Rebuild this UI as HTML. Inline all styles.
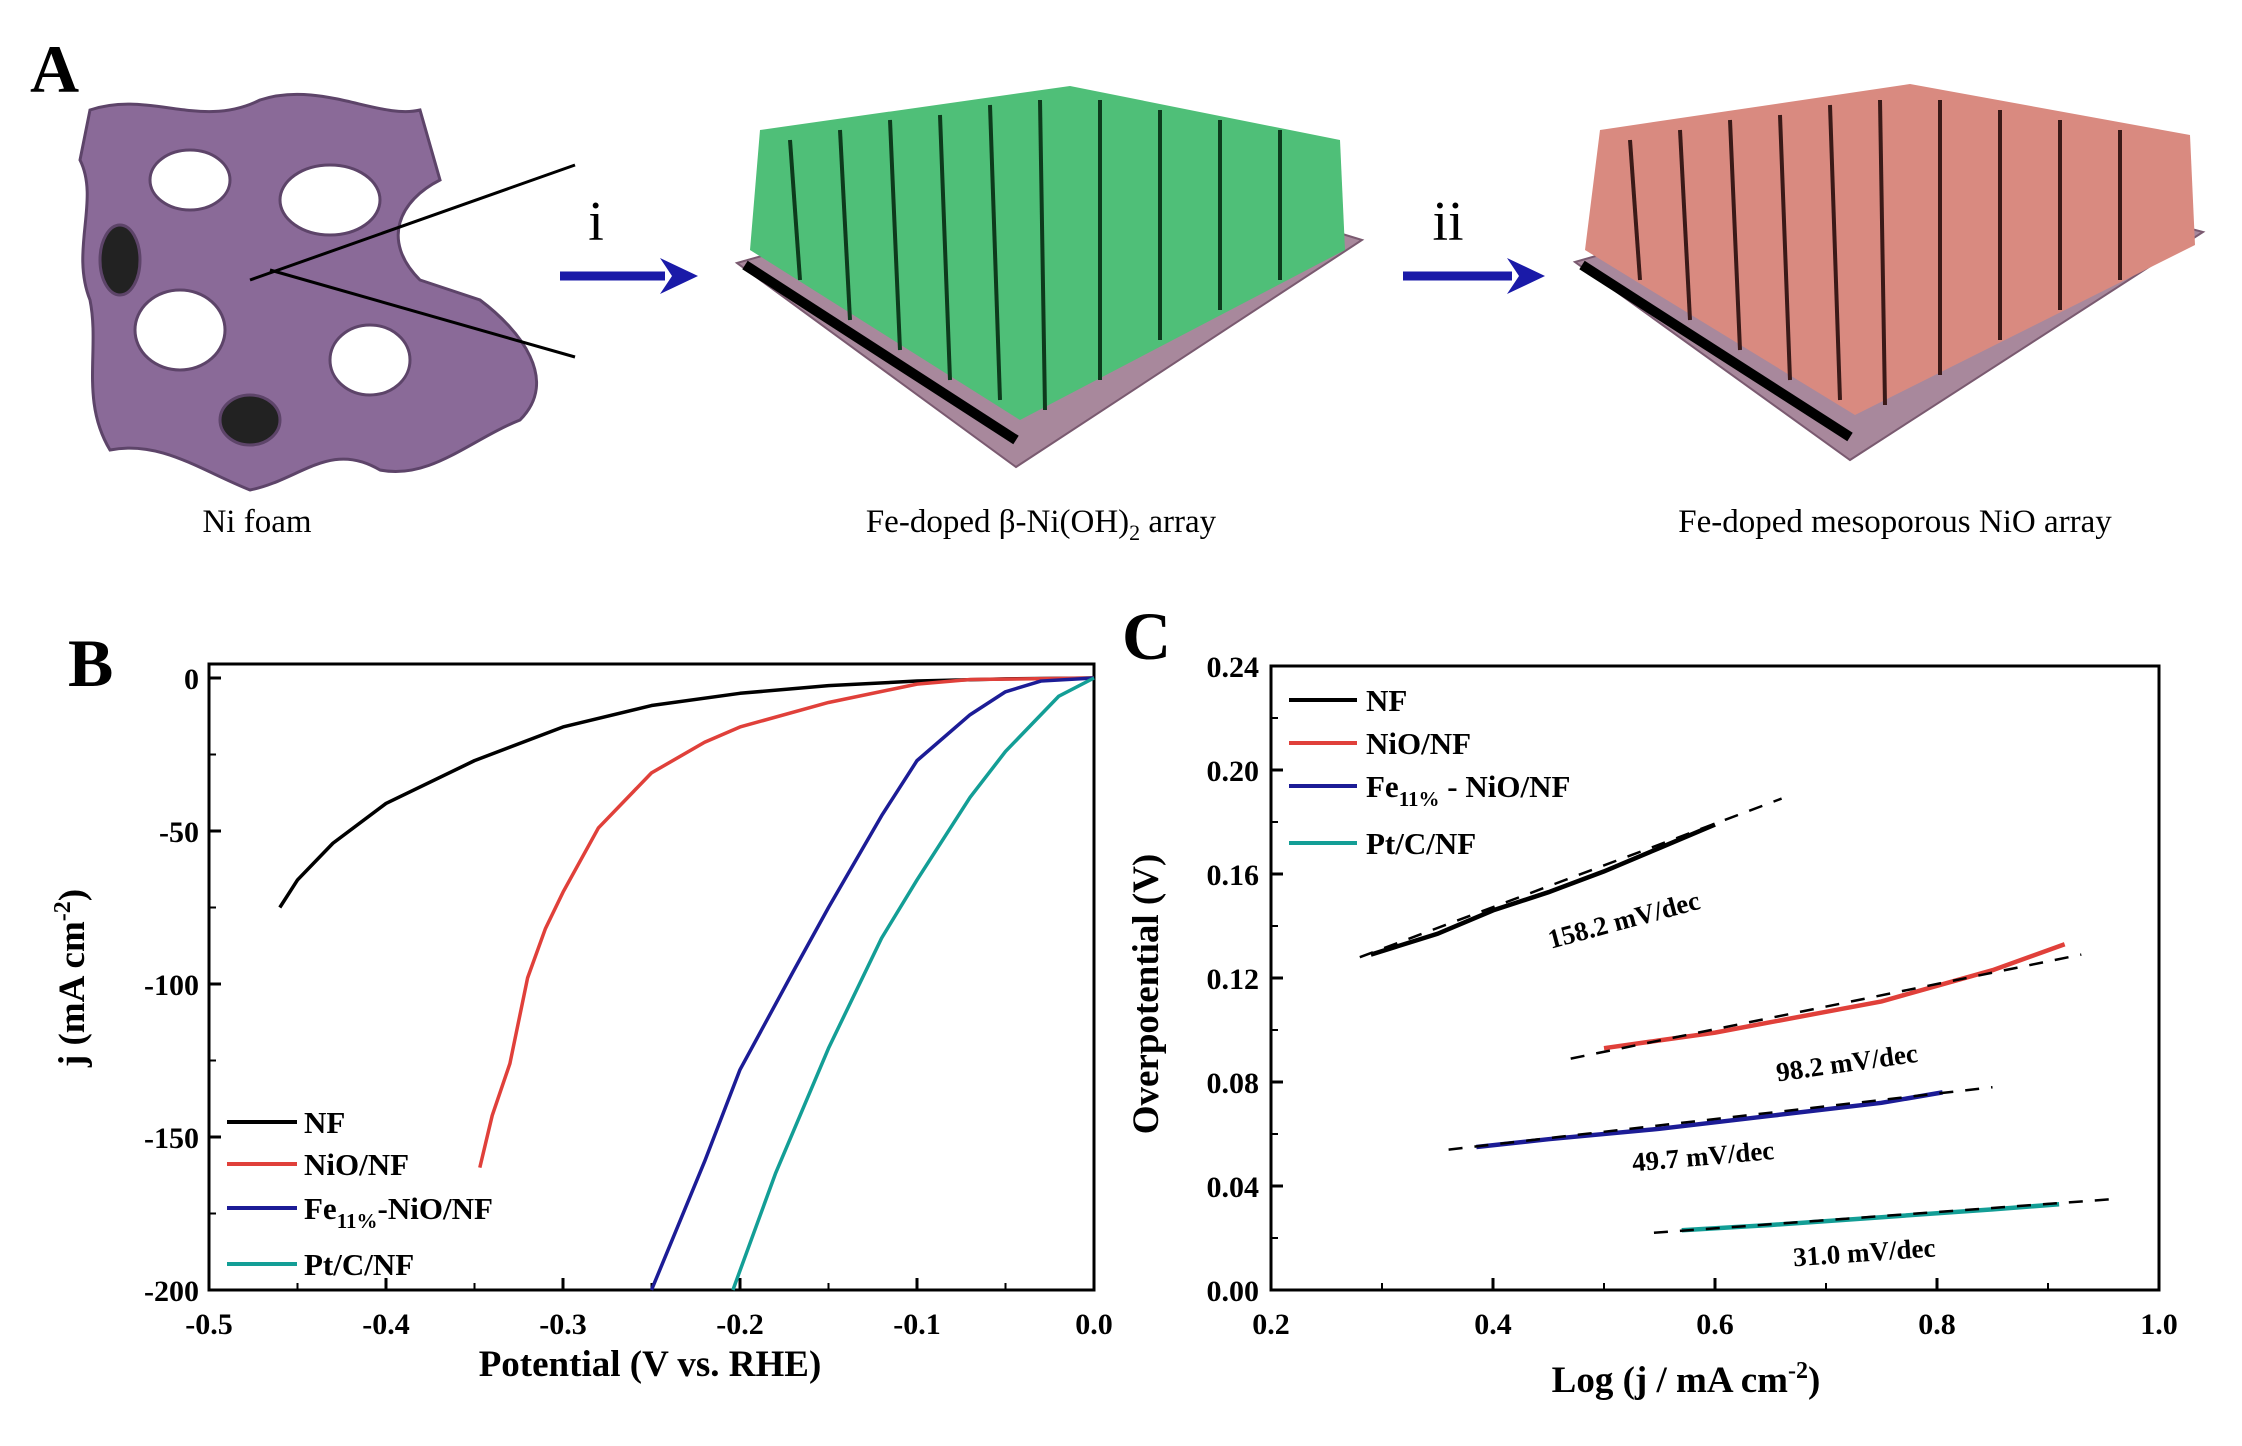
<!DOCTYPE html>
<html><head><meta charset="utf-8"><style>
body{margin:0;background:#fff;}
svg{display:block;font-family:"Liberation Serif",serif;}
.tk{font-size:30px;font-weight:bold;}
.ttl{font-size:37px;font-weight:bold;}
.lg{font-size:31px;font-weight:bold;}
.cap{font-size:33px;}
</style></head><body>
<svg id="fig" width="2242" height="1446" viewBox="0 0 2242 1446">
<g id="panelA">
 <text x="30" y="92" font-size="68" font-weight="bold">A</text>
 <g fill="#8a6a98" stroke="#5d4469" stroke-width="3">
  <path d="M90 110 C150 90 200 130 260 100 C320 80 380 120 420 110 L440 180 C400 200 380 240 420 280 L480 300 C520 330 560 380 520 420 C470 440 430 480 380 470 C330 440 300 480 250 490 C200 470 160 440 110 450 C80 400 100 350 90 300 C70 250 100 200 80 160 Z"/>
  <ellipse cx="190" cy="180" rx="40" ry="30" fill="#fff"/>
  <ellipse cx="330" cy="200" rx="50" ry="35" fill="#fff"/>
  <ellipse cx="180" cy="330" rx="45" ry="40" fill="#fff"/>
  <ellipse cx="370" cy="360" rx="40" ry="35" fill="#fff"/>
  <ellipse cx="250" cy="420" rx="30" ry="25" fill="#222"/>
  <ellipse cx="120" cy="260" rx="20" ry="35" fill="#222"/>
  <line x1="250" y1="280" x2="575" y2="165" stroke="#000" stroke-width="3"/>
  <line x1="270" y1="270" x2="575" y2="357" stroke="#000" stroke-width="3"/>
 </g>
 <text x="257" y="532" text-anchor="middle" class="cap">Ni foam</text>
 <g>
  <line x1="560" y1="276" x2="665" y2="276" stroke="#1a1aa8" stroke-width="9"/>
  <polygon points="660,258 698,276 660,294 672,276" fill="#1a1aa8"/>
  <text x="596" y="240" text-anchor="middle" font-size="56">i</text>
 </g>
 <g>
  <polygon points="737,263 1100,160 1362,240 1016,467" fill="#a8889c" stroke="#7a5a70" stroke-width="2"/>
  <polygon points="750,250 760,130 1070,86 1340,140 1345,250 1020,420" fill="#4fbf78"/>
  <g stroke="#0d3a1c" stroke-width="4">
   <line x1="790" y1="140" x2="800" y2="280"/><line x1="840" y1="130" x2="850" y2="320"/><line x1="890" y1="120" x2="900" y2="350"/>
   <line x1="940" y1="115" x2="950" y2="380"/><line x1="990" y1="105" x2="1000" y2="400"/><line x1="1040" y1="100" x2="1045" y2="410"/>
   <line x1="1100" y1="100" x2="1100" y2="380"/><line x1="1160" y1="110" x2="1160" y2="340"/><line x1="1220" y1="120" x2="1220" y2="310"/><line x1="1280" y1="130" x2="1280" y2="280"/>
  </g>
  <polyline points="745,265 1016,440" stroke="#000" stroke-width="10" fill="none"/>
 </g>
 <text x="1041" y="532" text-anchor="middle" class="cap">Fe-doped β-Ni(OH)<tspan font-size="22" dy="8">2</tspan><tspan dy="-8"> array</tspan></text>
 <g>
  <line x1="1403" y1="276" x2="1512" y2="276" stroke="#1a1aa8" stroke-width="9"/>
  <polygon points="1507,258 1545,276 1507,294 1519,276" fill="#1a1aa8"/>
  <text x="1448" y="240" text-anchor="middle" font-size="56">ii</text>
 </g>
 <g>
  <polygon points="1575,262 1930,160 2203,232 1850,460" fill="#a8889c" stroke="#7a5a70" stroke-width="2"/>
  <polygon points="1585,250 1600,130 1910,84 2190,135 2195,245 1855,415" fill="#d98a80"/>
  <g stroke="#3a1a18" stroke-width="4">
   <line x1="1630" y1="140" x2="1640" y2="280"/><line x1="1680" y1="130" x2="1690" y2="320"/><line x1="1730" y1="120" x2="1740" y2="350"/>
   <line x1="1780" y1="115" x2="1790" y2="380"/><line x1="1830" y1="105" x2="1840" y2="400"/><line x1="1880" y1="100" x2="1885" y2="405"/>
   <line x1="1940" y1="100" x2="1940" y2="375"/><line x1="2000" y1="110" x2="2000" y2="340"/><line x1="2060" y1="120" x2="2060" y2="310"/><line x1="2120" y1="130" x2="2120" y2="280"/>
  </g>
  <polyline points="1582,265 1850,437" stroke="#000" stroke-width="10" fill="none"/>
 </g>
 <text x="1895" y="532" text-anchor="middle" class="cap">Fe-doped mesoporous NiO array</text>
</g>
<g id="panelB"></g>
<g id="panelC"></g>
</svg>
<script>
// ---- Panel B data ----
const bXTicks = [-0.5,-0.4,-0.3,-0.2,-0.1,0.0];
const bXTickLabels = ["-0.5","-0.4","-0.3","-0.2","-0.1","0.0"];
const bYTicks = [0,-50,-100,-150,-200];
const bYTickLabels = ["0","-50","-100","-150","-200"];
const bSeriesNames = ["NF","NiO/NF","Fe11%-NiO/NF","Pt/C/NF"];
const bNF_V = [-0.46,-0.45,-0.43,-0.40,-0.35,-0.30,-0.25,-0.20,-0.15,-0.10,-0.05,0.0];
const bNF_J = [-75,-66,-54,-41,-27,-16,-9,-5,-2.5,-1,-0.3,0];
const bNiO_V = [-0.347,-0.34,-0.33,-0.32,-0.31,-0.30,-0.28,-0.25,-0.22,-0.20,-0.15,-0.10,-0.07,0.0];
const bNiO_J = [-160,-143,-126,-98,-82,-70,-49,-31,-21,-16,-8,-2,-0.5,0];
const bFe_V = [-0.25,-0.22,-0.20,-0.17,-0.15,-0.12,-0.10,-0.07,-0.05,-0.03,0.0];
const bFe_J = [-200,-158,-128,-96,-75,-45,-27,-12,-4.5,-1,0];
const bPt_V = [-0.204,-0.18,-0.15,-0.12,-0.10,-0.07,-0.05,-0.02,0.0];
const bPt_J = [-200,-162,-121,-85,-66,-39,-24,-6,0];
// ---- Panel C data ----
const cXTicks = [0.2,0.4,0.6,0.8,1.0];
const cXTickLabels = ["0.2","0.4","0.6","0.8","1.0"];
const cYTicks = [0.00,0.04,0.08,0.12,0.16,0.20,0.24];
const cYTickLabels = ["0.00","0.04","0.08","0.12","0.16","0.20","0.24"];
const cNF_X = [0.29,0.35,0.40,0.45,0.50,0.55,0.60];
const cNF_Y = [0.129,0.137,0.146,0.153,0.161,0.170,0.179];
const cNiO_X = [0.50,0.55,0.60,0.65,0.70,0.75,0.80,0.85,0.915];
const cNiO_Y = [0.093,0.096,0.099,0.103,0.107,0.111,0.117,0.123,0.133];
const cFe_X = [0.385,0.45,0.55,0.65,0.75,0.805];
const cFe_Y = [0.055,0.058,0.062,0.067,0.072,0.076];
const cPt_X = [0.57,0.65,0.75,0.85,0.91];
const cPt_Y = [0.023,0.025,0.028,0.031,0.033];
const cFitX0 = [0.28,0.47,0.36,0.545];
const cFitY0 = [0.128,0.089,0.054,0.022];
const cFitX1 = [0.66,0.93,0.85,0.96];
const cFitY1 = [0.189,0.129,0.078,0.035];
const cSlopeLabels = ["158.2 mV/dec","98.2 mV/dec","49.7 mV/dec","31.0 mV/dec"];
const cSlopeLabelX = [0.52,0.72,0.59,0.735];
const cSlopeLabelY = [0.139,0.084,0.048,0.011];
const cSlopeAngles = [-15,-8,-5,-4];

const NS="http://www.w3.org/2000/svg";
const colors=["#000","#e0403a","#1c1c96","#139e96"];
function mk(tag,attrs,parent){const e=document.createElementNS(NS,tag);for(const k in attrs)e.setAttribute(k,attrs[k]);parent.appendChild(e);return e;}

// Panel B
const gB=document.getElementById('panelB');
const bL=209,bR=1094,bT=664,bB=1290;
const bx=v=>bL+(v+0.5)/0.5*(bR-bL);
const by=j=>678+(-j)/200*(1290-678);
let t=mk('text',{x:68,y:686,'font-size':68,'font-weight':'bold'},gB);t.textContent='B';


let fr=mk('rect',{x:bL,y:bT,width:bR-bL,height:bB-bT,fill:'none',stroke:'#000','stroke-width':3},gB);


bXTicks.forEach((v,i)=>{
 const x=bx(v);
 mk('line',{x1:x,y1:bB,x2:x,y2:bB-12,stroke:'#000','stroke-width':3},gB);
 if(i<bXTicks.length-1) mk('line',{x1:bx(v+0.05),y1:bB,x2:bx(v+0.05),y2:bB-7,stroke:'#000','stroke-width':2},gB);
 const l=mk('text',{x:x,y:bB+44,'text-anchor':'middle',class:'tk'},gB);l.textContent=bXTickLabels[i];
 
 
});
bYTicks.forEach((v,i)=>{
 const y=by(v);
 mk('line',{x1:bL,y1:y,x2:bL+12,y2:y,stroke:'#000','stroke-width':3},gB);
 if(i<bYTicks.length-1) mk('line',{x1:bL,y1:by(v-25),x2:bL+7,y2:by(v-25),stroke:'#000','stroke-width':2},gB);
 const l=mk('text',{x:bL-10,y:y+11,'text-anchor':'end',class:'tk'},gB);l.textContent=bYTickLabels[i];
 
 
});
t=mk('text',{x:650,y:1376,'text-anchor':'middle',class:'ttl'},gB);t.textContent='Potential (V vs. RHE)';


t=mk('text',{x:0,y:0,'text-anchor':'middle',class:'ttl',transform:'translate(84,978) rotate(-90)'},gB);
t.innerHTML='j (mA cm<tspan font-size="24" dy="-14">-2</tspan><tspan dy="14">)</tspan>';


const bSets=[[bNF_V,bNF_J],[bNiO_V,bNiO_J],[bFe_V,bFe_J],[bPt_V,bPt_J]];
const bNames=['nf-curve','nio-nf-curve','fe-nio-nf-curve','pt-c-nf-curve'];
bSets.forEach((s,k)=>{
 const p=mk('polyline',{points:s[0].map((v,i)=>bx(v)+','+by(s[1][i])).join(' '),fill:'none',stroke:colors[k],'stroke-width':3.5,'stroke-linejoin':'round'},gB);
 
 
});
const bLegY=[1122,1164,1208,1264];
bSeriesNames.forEach((n,k)=>{
 const ln=mk('line',{x1:227,y1:bLegY[k],x2:297,y2:bLegY[k],stroke:colors[k],'stroke-width':4},gB);
 
 
 const tx=mk('text',{x:304,y:bLegY[k]+11,class:'lg'},gB);
 if(k===2) tx.innerHTML='Fe<tspan font-size="21" dy="9">11%</tspan><tspan dy="-9">-NiO/NF</tspan>'; else tx.textContent=n;
 
 
});

// Panel C
const gC=document.getElementById('panelC');
const cL=1271,cR=2159,cT=666,cB=1290;
const cx=v=>cL+(v-0.2)/0.8*(cR-cL);
const cy=v=>cB-v/0.24*(cB-cT);
t=mk('text',{x:1122,y:659,'font-size':68,'font-weight':'bold'},gC);t.textContent='C';


fr=mk('rect',{x:cL,y:cT,width:cR-cL,height:cB-cT,fill:'none',stroke:'#000','stroke-width':3},gC);


cXTicks.forEach((v,i)=>{
 const x=cx(v);
 mk('line',{x1:x,y1:cB,x2:x,y2:cB-12,stroke:'#000','stroke-width':3},gC);
 if(i<cXTicks.length-1) mk('line',{x1:cx(v+0.1),y1:cB,x2:cx(v+0.1),y2:cB-7,stroke:'#000','stroke-width':2},gC);
 const l=mk('text',{x:x,y:cB+44,'text-anchor':'middle',class:'tk'},gC);l.textContent=cXTickLabels[i];
 
 
});
cYTicks.forEach((v,i)=>{
 const y=cy(v);
 mk('line',{x1:cL,y1:y,x2:cL+12,y2:y,stroke:'#000','stroke-width':3},gC);
 if(i<cYTicks.length-1) mk('line',{x1:cL,y1:cy(v+0.02),x2:cL+7,y2:cy(v+0.02),stroke:'#000','stroke-width':2},gC);
 const l=mk('text',{x:cL-12,y:y+11,'text-anchor':'end',class:'tk'},gC);l.textContent=cYTickLabels[i];
 
 
});
t=mk('text',{x:1686,y:1392,'text-anchor':'middle',class:'ttl'},gC);
t.innerHTML='Log (j / mA cm<tspan font-size="24" dy="-14">-2</tspan><tspan dy="14">)</tspan>';


t=mk('text',{x:0,y:0,'text-anchor':'middle',class:'ttl',transform:'translate(1158,994) rotate(-90)'},gC);t.textContent='Overpotential (V)';


const cSets=[[cNF_X,cNF_Y],[cNiO_X,cNiO_Y],[cFe_X,cFe_Y],[cPt_X,cPt_Y]];
const cNames=['nf-tafel','nio-nf-tafel','fe-nio-nf-tafel','pt-c-nf-tafel'];
cSets.forEach((s,k)=>{
 const p=mk('polyline',{points:s[0].map((v,i)=>cx(v)+','+cy(s[1][i])).join(' '),fill:'none',stroke:colors[k],'stroke-width':4.5},gC);
 
 
 const f=mk('line',{x1:cx(cFitX0[k]),y1:cy(cFitY0[k]),x2:cx(cFitX1[k]),y2:cy(cFitY1[k]),stroke:'#000','stroke-width':2.5,'stroke-dasharray':'14,12'},gC);
 
 
 const lx=cx(cSlopeLabelX[k]),ly=cy(cSlopeLabelY[k]);
 const a=mk('text',{x:lx,y:ly,'text-anchor':'middle','font-size':27,'font-weight':'bold',transform:'rotate('+cSlopeAngles[k]+' '+lx+' '+ly+')'},gC);
 a.textContent=cSlopeLabels[k];
 
 
});
const cLegY=[700,743,786,843];
bSeriesNames.forEach((n,k)=>{
 const ln=mk('line',{x1:1289,y1:cLegY[k],x2:1357,y2:cLegY[k],stroke:colors[k],'stroke-width':4},gC);
 
 
 const tx=mk('text',{x:1366,y:cLegY[k]+11,class:'lg'},gC);
 if(k===2) tx.innerHTML='Fe<tspan font-size="21" dy="9">11%</tspan><tspan dy="-9"> - NiO/NF</tspan>'; else tx.textContent=n;
 
 
});
</script>
</body></html>
